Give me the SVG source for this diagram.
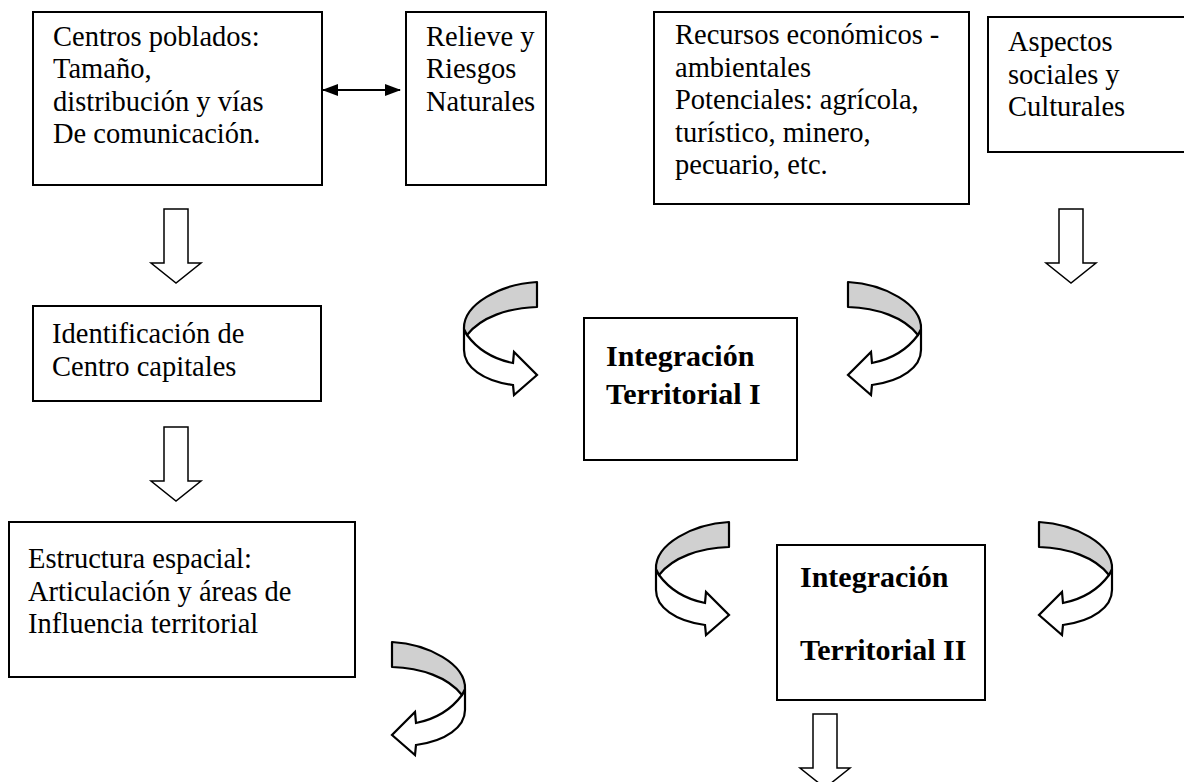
<svg xmlns="http://www.w3.org/2000/svg" xmlns:xlink="http://www.w3.org/1999/xlink" width="1184" height="782" viewBox="0 0 1184 782">
<style>
.box{fill:#fff;stroke:#000;stroke-width:2}
.t{font-family:"Liberation Serif","Times New Roman",serif;font-size:28.5px;fill:#000}
.b{font-family:"Liberation Serif","Times New Roman",serif;font-size:30px;font-weight:bold;fill:#000}
.blk{fill:#fff;stroke:#000;stroke-width:1.5;stroke-linejoin:miter}
.gray{fill:#d0d0d0;stroke:#000;stroke-width:2.2;stroke-linejoin:round}
.wh{fill:#fff;stroke:#000;stroke-width:2.2;stroke-linejoin:miter}
.ln{stroke:#000;stroke-width:2;fill:none}
</style>
<defs>
<marker id="ah" markerWidth="16" markerHeight="12" refX="15" refY="6" orient="auto-start-reverse" markerUnits="userSpaceOnUse" viewBox="0 0 16 12">
<path d="M0,0 L16,6 L0,12 Z" fill="#000"/>
</marker>
<g id="curl">
<path class="wh" d="M4,53 C15,68 30,77 50,81 L51,70 L74,93 L51,113 L50,103 C20,99 1,85 1,68 L1,47 Z"/>
<path class="gray" d="M74,0 C38,2 0,22 1,47 L4,53 C18,35 45,26 74,25 Z"/>
</g>
<path id="down" d="M-12,0 L12,0 L12,54 L25,54 L0,74 L-25,54 L-12,54 Z"/>
</defs>

<g id="n1">
<rect class="box" x="33" y="12" width="289" height="173"/>
<text class="t" x="53" y="46">Centros poblados:</text>
<text class="t" x="53" y="78">Tamaño,</text>
<text class="t" x="53" y="111">distribución y vías</text>
<text class="t" x="53" y="143">De comunicación.</text>
</g>
<g id="n2">
<rect class="box" x="406" y="12" width="140" height="173"/>
<text class="t" x="426" y="46">Relieve y</text>
<text class="t" x="426" y="78">Riesgos</text>
<text class="t" x="426" y="111">Naturales</text>
</g>
<g id="n3">
<rect class="box" x="654" y="12" width="315" height="192"/>
<text class="t" x="675" y="44">Recursos económicos -</text>
<text class="t" x="675" y="77">ambientales</text>
<text class="t" x="675" y="109">Potenciales: agrícola,</text>
<text class="t" x="675" y="142">turístico, minero,</text>
<text class="t" x="675" y="174">pecuario, etc.</text>
</g>
<g id="n4">
<rect class="box" x="988" y="17" width="210" height="135"/>
<text class="t" x="1008" y="51">Aspectos</text>
<text class="t" x="1008" y="84">sociales y</text>
<text class="t" x="1008" y="116">Culturales</text>
</g>
<g id="n5">
<rect class="box" x="33" y="306" width="288" height="95"/>
<text class="t" x="52" y="343">Identificación de</text>
<text class="t" x="52" y="376">Centro capitales</text>
</g>
<g id="n6">
<rect class="box" x="9" y="522" width="346" height="155"/>
<text class="t" x="28" y="568">Estructura espacial:</text>
<text class="t" x="28" y="601">Articulación y áreas de</text>
<text class="t" x="28" y="633">Influencia territorial</text>
</g>
<g id="n7">
<rect class="box" x="584" y="318" width="213" height="142"/>
<text class="b" x="606" y="366">Integración</text>
<text class="b" x="606" y="404">Territorial I</text>
</g>
<g id="n8">
<rect class="box" x="777" y="545" width="208" height="155"/>
<text class="b" x="800" y="587">Integración</text>
<text class="b" x="800" y="660">Territorial II</text>
</g>

<g id="connectors">
<line class="ln" x1="323" y1="90" x2="400" y2="90" marker-start="url(#ah)" marker-end="url(#ah)"/>
<use xlink:href="#down" class="blk" transform="translate(176,209)"/>
<use xlink:href="#down" class="blk" transform="translate(176,427)"/>
<use xlink:href="#down" class="blk" transform="translate(1071,209)"/>
<use xlink:href="#down" class="blk" transform="translate(825,714)"/>
<use xlink:href="#curl" transform="translate(463,282)"/>
<use xlink:href="#curl" transform="translate(922,282) scale(-1,1)"/>
<use xlink:href="#curl" transform="translate(655,522)"/>
<use xlink:href="#curl" transform="translate(1113,522) scale(-1,1)"/>
<use xlink:href="#curl" transform="translate(466,642) scale(-1,1)"/>
</g>
</svg>
